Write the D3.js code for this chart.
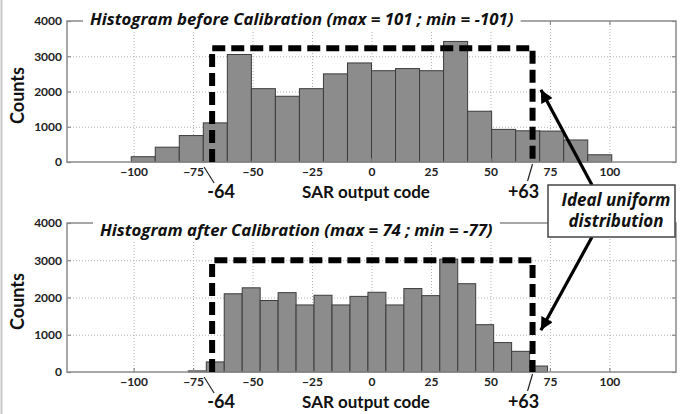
<!DOCTYPE html>
<html>
<head>
<meta charset="UTF-8">
<script src="https://cdnjs.cloudflare.com/ajax/libs/d3/7.8.5/d3.min.js"></script>
<style>
  body { margin: 0; background: #fff; }
  svg { font-family: Lato, 'Open Sans', sans-serif; }
  .tick text { font-weight: bold; font-size: 12px; fill: #222; }
  .ital { font-family: 'Open Sans', sans-serif; font-weight: bold; font-style: italic; fill: #111; }
</style>
</head>
<body>
<svg id="chart" width="682" height="414"></svg>
<script>
// 20 equal-width bins between min and max code of each run
var beforeRange = [-101, 101];
var beforeCounts = [150, 420, 750, 1110, 3050, 2080, 1865, 2080, 2500, 2810,
                    2590, 2650, 2590, 3420, 1440, 925, 885, 877, 625, 205];
var afterRange = [-77, 74];
var afterCounts = [30, 270, 2100, 2260, 1920, 2130, 1800, 2060, 1800, 2030,
                   2140, 1800, 2240, 2050, 3030, 2370, 1270, 790, 555, 160];
var xTicks = [-100, -75, -50, -25, 0, 25, 50, 75, 100];
var yTicks = [0, 1000, 2000, 3000, 4000];
var gridY = [1000, 2000, 3000];
var idealEdges = [-67, 67.7];      // where the dashed "ideal" box is drawn
var idealLevels = [3230, 3000];
var idealLabels = ["-64", "+63"];
var titles = ["Histogram before Calibration (max = 101 ; min = -101)",
              "Histogram after Calibration (max = 74 ; min = -77)"];
var arrowTips = [[71.2, 2050], [71.2, 1120]];   // in each panel's data units

var svg = d3.select("#chart");
var panels = [
  {top: 21, bottom: 162, range: beforeRange, counts: beforeCounts, titleX: 90, titleY: 25},
  {top: 223, bottom: 372, range: afterRange, counts: afterCounts, titleX: 100, titleY: 236}
];
var left = 67, right = 676;

svg.append("rect").attr("width", 682).attr("height", 414).attr("fill", "#fff");
svg.append("line").attr("x1", 1.5).attr("x2", 1.5).attr("y1", 0).attr("y2", 414)
  .attr("stroke", "#c8c8c8").attr("stroke-width", 2);

var tips = [];

panels.forEach(function(p, k) {
  var x = d3.scaleLinear().domain([-128, 128]).range([left, right]);
  var y = d3.scaleLinear().domain([0, 4000]).range([p.bottom, p.top]);
  var h = p.bottom - p.top;
  var g = svg.append("g");

  /* dotted grid */
  g.append("g")
    .attr("transform", "translate(0," + p.bottom + ")")
    .call(d3.axisBottom(x).tickValues(xTicks).tickSize(-h).tickFormat(""))
    .call(function(s) {
      s.select(".domain").remove();
      s.selectAll("line").attr("stroke", "#b0b0b0").attr("stroke-dasharray", "1,2");
    });
  g.append("g")
    .attr("transform", "translate(" + left + ",0)")
    .call(d3.axisLeft(y).tickValues(gridY).tickSize(-(right - left)).tickFormat(""))
    .call(function(s) {
      s.select(".domain").remove();
      s.selectAll("line").attr("stroke", "#b0b0b0").attr("stroke-dasharray", "1,2");
    });

  /* bars */
  var w = (p.range[1] - p.range[0]) / p.counts.length;
  var bins = p.counts.map(function(n, i) {
    return {x0: p.range[0] + i * w, x1: p.range[0] + (i + 1) * w, n: n};
  });
  g.selectAll("rect.bar").data(bins).enter().append("rect")
    .attr("class", "bar")
    .attr("x", function(d) { return x(d.x0); })
    .attr("width", function(d) { return x(d.x1) - x(d.x0); })
    .attr("y", function(d) { return y(d.n); })
    .attr("height", function(d) { return y(0) - y(d.n); })
    .attr("fill", "#8c8c8c")
    .attr("stroke", "#3c3c3c")
    .attr("stroke-width", 1);

  /* axes box with inward ticks */
  g.append("rect")
    .attr("x", left).attr("y", p.top).attr("width", right - left).attr("height", h)
    .attr("fill", "none").attr("stroke", "#8a8a8a").attr("stroke-width", 1.5);
  function styleAxis(s) {
    s.select(".domain").remove();
    s.selectAll("line").attr("stroke", "#8a8a8a").attr("stroke-width", 1.2);
  }
  g.append("g").attr("transform", "translate(0," + p.bottom + ")")
    .call(d3.axisBottom(x).tickValues(xTicks).tickSize(-4).tickPadding(5))
    .call(styleAxis);
  g.append("g").attr("transform", "translate(0," + p.top + ")")
    .call(d3.axisTop(x).tickValues(xTicks).tickSize(-4).tickFormat(""))
    .call(styleAxis);
  g.append("g").attr("transform", "translate(" + left + ",0)")
    .call(d3.axisLeft(y).tickValues(yTicks).tickSize(-4).tickPadding(5).tickFormat(d3.format("d")))
    .call(styleAxis);
  g.append("g").attr("transform", "translate(" + right + ",0)")
    .call(d3.axisRight(y).tickValues(yTicks).tickSize(-4).tickFormat(""))
    .call(styleAxis);
  g.selectAll(".tick text").attr("font-family", "Lato, sans-serif");

  /* dashed ideal uniform box */
  var xa = x(idealEdges[0]), xb = x(idealEdges[1]), yl = y(idealLevels[k]);
  g.append("path")
    .attr("d", "M" + xa + "," + y(0) + "V" + yl + "H" + xb + "V" + y(0))
    .attr("fill", "none").attr("stroke", "#000").attr("stroke-width", 6)
    .attr("stroke-dasharray", "13,6");

  /* -64 / +63 labels with leaders */
  g.append("line").attr("x1", xa - 8).attr("y1", y(0) + 5).attr("x2", xa + 2).attr("y2", y(0) + 21)
    .attr("stroke", "#222").attr("stroke-width", 1.2);
  g.append("line").attr("x1", xb).attr("y1", y(0) + 2).attr("x2", xb - 5).attr("y2", y(0) + 19)
    .attr("stroke", "#222").attr("stroke-width", 1.2);
  g.append("text").attr("x", xa + 9).attr("y", y(0) + 36)
    .attr("text-anchor", "middle").attr("font-size", 18).attr("font-weight", "bold")
    .attr("fill", "#111").text(idealLabels[0]);
  g.append("text").attr("x", xb - 9).attr("y", y(0) + 36)
    .attr("text-anchor", "middle").attr("font-size", 18).attr("font-weight", "bold")
    .attr("fill", "#111").text(idealLabels[1]);

  /* axis titles */
  g.append("text").attr("x", 366).attr("y", y(0) + 36)
    .attr("text-anchor", "middle").attr("font-size", 17).attr("font-weight", "bold")
    .attr("fill", "#111").text("SAR output code");
  g.append("text")
    .attr("transform", "translate(24," + ((p.top + p.bottom) / 2 + 4) + ") rotate(-90)")
    .attr("text-anchor", "middle").attr("font-size", 18).attr("font-weight", "bold")
    .attr("fill", "#111").text("Counts");

  /* panel title on white background */
  var t = g.append("text").attr("class", "ital").attr("x", p.titleX).attr("y", p.titleY)
    .attr("font-size", 16.8).text(titles[k]);
  var bb = t.node().getBBox();
  g.insert("rect", function() { return t.node(); })
    .attr("x", bb.x - 7).attr("y", bb.y + 2).attr("width", bb.width + 14).attr("height", bb.height - 2)
    .attr("fill", "#fff");

  tips.push([x(arrowTips[k][0]), y(arrowTips[k][1])]);
});

/* callout box and arrows */
var defs = svg.append("defs");
defs.append("marker").attr("id", "head")
  .attr("viewBox", "0 0 10 10").attr("refX", 10).attr("refY", 5)
  .attr("markerWidth", 5.5).attr("markerHeight", 4).attr("orient", "auto")
  .attr("markerUnits", "strokeWidth")
  .append("path").attr("d", "M0,0L10,5L0,10Z").attr("fill", "#000");

var box = {x: 548, y: 185, w: 127, h: 52};
svg.append("line").attr("x1", 592).attr("y1", box.y).attr("x2", tips[0][0]).attr("y2", tips[0][1])
  .attr("stroke", "#000").attr("stroke-width", 3.2).attr("marker-end", "url(#head)");
svg.append("line").attr("x1", 592).attr("y1", box.y + box.h).attr("x2", tips[1][0]).attr("y2", tips[1][1])
  .attr("stroke", "#000").attr("stroke-width", 3.2).attr("marker-end", "url(#head)");
svg.append("rect").attr("x", box.x).attr("y", box.y).attr("width", box.w).attr("height", box.h)
  .attr("fill", "#fff").attr("stroke", "#444").attr("stroke-width", 1.5);
svg.append("text").attr("class", "ital").attr("x", 616).attr("y", 206)
  .attr("text-anchor", "middle").attr("font-size", 17).text("Ideal uniform");
svg.append("text").attr("class", "ital").attr("x", 616).attr("y", 227)
  .attr("text-anchor", "middle").attr("font-size", 17).text("distribution");
</script>
</body>
</html>
